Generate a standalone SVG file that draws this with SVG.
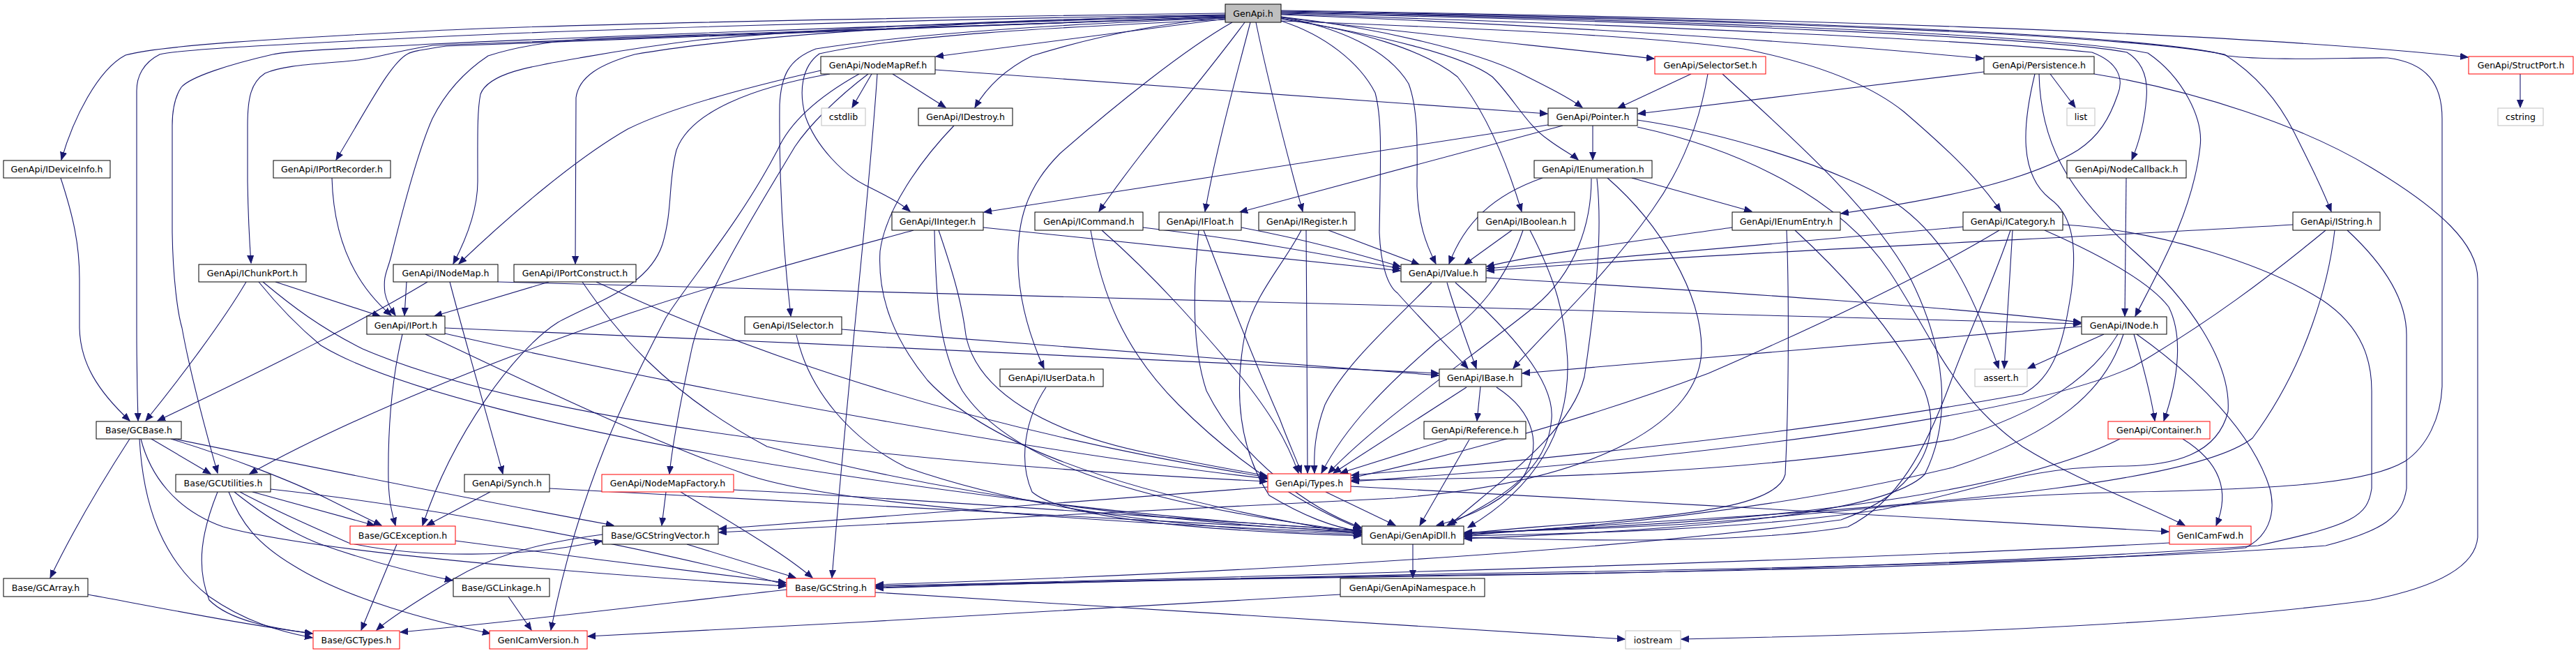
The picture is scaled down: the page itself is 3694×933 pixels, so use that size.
<svg xmlns="http://www.w3.org/2000/svg" width="3694" height="933" viewBox="0 0 3694 933">
<style>
.nd rect{fill:#fff;stroke:#000;stroke-width:1}
.nd.red rect{stroke:#ff0000}
.nd.ext rect{stroke:#bfbfbf}
.nd.root rect{fill:#bfbfbf}
.nd text{font-family:"DejaVu Sans","Liberation Sans",sans-serif;font-size:12.6px;text-anchor:middle;fill:#000}
#edges path{fill:none;stroke:#191970;stroke-width:1.1}
</style>
<defs>
<marker id="a" markerWidth="12" markerHeight="10" refX="11" refY="5" orient="auto" markerUnits="userSpaceOnUse"><path d="M0,0.5 L11,5 L0,9.5 z" fill="#191970" stroke="#191970" stroke-width="1"/></marker>
</defs>
<rect width="3694" height="933" fill="#fff"/>
<g id="edges" marker-end="url(#a)">
<path d="M1757,19 C1300,25 800,35 620,44 C400,55 230,65 180,79 C140,100 105,170 88,229"/>
<path d="M1757,21 C1300,28 800,44 620,53 C420,63 260,70 229,78 C205,90 196,110 196,130 L196,470 C196,530 197,570 198,603"/>
<path d="M1757,23 C1300,35 800,55 620,63 C500,70 420,72 391,78 C330,92 273,110 260,125 C250,140 247,160 247,180 L247,333 C248,400 255,450 261,470 C270,520 290,600 312,678"/>
<path d="M1757,24 C1300,38 850,55 620,65 C560,75 540,83 514,86 C460,92 410,92 380,105 C360,118 355,140 355,180 L355,260 C356,320 358,350 360,377"/>
<path d="M1757,24 C1300,38 850,55 640,66 C600,72 590,74 585,77 C560,90 530,150 482,229"/>
<path d="M1757,25 C1300,40 950,50 847,55 C780,60 730,70 700,80 C670,100 640,130 620,170 C600,215 575,310 561,367 C555,390 549,395 552,420 C555,435 562,445 567,452"/>
<path d="M1757,22 C1500,28 1250,35 1005,57 C920,67 860,78 831,83 C760,95 700,105 689,135 C684,160 685,200 685,260 C685,300 670,340 650,378"/>
<path d="M1757,22 C1500,26 1100,45 910,78 C860,92 830,110 826,140 L825,378"/>
<path d="M1757,26 C1500,35 1300,50 1170,70 C1130,85 1120,110 1118,150 C1117,250 1122,350 1134,453"/>
<path d="M1757,27 L1342,81"/>
<path d="M1757,25 C1650,35 1560,55 1480,80 C1440,100 1415,125 1398,154"/>
<path d="M1757,28 C1500,40 1300,50 1175,77 C1150,95 1145,130 1155,167 C1170,210 1210,250 1240,265 C1270,280 1290,290 1305,303"/>
<path d="M1785,32 C1720,120 1640,210 1576,303"/>
<path d="M1793,32 C1770,120 1745,210 1728,303"/>
<path d="M1801,32 C1815,100 1840,200 1868,303"/>
<path d="M1767,32 C1700,70 1600,150 1520,220 C1470,270 1458,320 1460,380 C1462,440 1480,490 1497,528"/>
<path d="M1837,24 C1920,40 1990,70 2020,120 C2035,160 2032,220 2032,267 C2033,320 2045,350 2059,378"/>
<path d="M1837,30 C1900,50 1950,90 1972,133 C1982,170 1980,220 1978,333 C1980,380 1990,410 2004,420 C2030,450 2080,500 2105,528"/>
<path d="M1837,26 C1950,45 2040,70 2090,110 C2130,160 2160,230 2182,303"/>
<path d="M1837,27 C1980,50 2100,80 2140,110 C2170,140 2190,180 2220,200 C2240,215 2255,222 2263,229"/>
<path d="M1837,24 C1980,40 2120,75 2180,105 C2220,125 2250,140 2269,154"/>
<path d="M1837,25 C2000,45 2200,65 2372,84"/>
<path d="M1837,20 C2300,35 2800,55 3000,75 C3040,90 3045,115 3037,135 C3025,170 3010,195 2980,215 C2900,265 2750,290 2640,306"/>
<path d="M1837,30 C2100,40 2350,50 2500,70 C2600,90 2680,120 2730,160 C2800,220 2840,260 2869,303"/>
<path d="M1837,21 C2200,35 2600,60 2844,84"/>
<path d="M1837,19 C2400,30 2950,55 3050,75 C3075,90 3080,115 3078,140 C3075,180 3065,210 3057,229"/>
<path d="M1837,18 C2400,28 2950,50 3080,76 C3130,110 3160,170 3155,210 C3145,300 3100,380 3062,453"/>
<path d="M1837,17 C2500,28 3050,50 3190,78 C3240,110 3270,150 3290,190 C3315,240 3330,270 3343,303"/>
<path d="M1837,15 C2500,25 3200,45 3539,82"/>
<path d="M1837,16 C2500,26 3100,50 3194,80 C3260,88 3380,82 3424,83 C3480,90 3502,120 3502,170 L3502,554 C3500,600 3480,640 3449,661 C3400,690 3300,700 3060,705 C2800,710 2600,740 2400,752 C2250,760 2150,762 2100,763"/>
<path d="M1250,106 L1222,154"/>
<path d="M1280,106 L1356,154"/>
<path d="M1341,100 C1600,117 1900,140 2219,163"/>
<path d="M1177,101 C1050,130 950,160 900,185 C830,225 740,300 658,378"/>
<path d="M1190,106 C1080,125 990,160 970,215 C958,260 965,300 950,350 C930,410 860,430 800,462 C740,500 650,620 606,753"/>
<path d="M1245,106 C1200,140 1160,180 1140,210 C1080,310 1010,420 992,500 C977,570 965,630 960,679"/>
<path d="M1232,106 C1180,135 1135,170 1115,215 C1060,320 990,400 955,455 C900,560 830,700 790,903"/>
<path d="M1258,106 C1245,300 1220,500 1193,828"/>
<path d="M1368,180 C1320,230 1270,300 1262,360 C1258,430 1285,490 1330,545 C1400,620 1550,700 1952,766"/>
<path d="M2284,180 L2284,229"/>
<path d="M2220,179 L1411,304"/>
<path d="M2241,180 L1778,304"/>
<path d="M2348,172 C2470,190 2620,235 2717,290 C2790,340 2830,420 2866,528"/>
<path d="M2348,182 C2500,215 2640,285 2710,390 C2770,480 2800,570 2900,640 C2980,690 3080,725 3133,753"/>
<path d="M2212,255 C2140,280 2100,320 2078,378"/>
<path d="M2340,255 L2512,303"/>
<path d="M2282,256 C2282,320 2260,390 2200,440 C2100,520 1980,600 1905,678"/>
<path d="M2290,256 C2298,330 2290,420 2272,540 C2252,620 2150,690 2078,753"/>
<path d="M2305,255 C2380,320 2440,420 2440,500 C2440,600 2300,690 2000,714 C1600,732 1250,752 1031,763"/>
<path d="M2484,326 C2350,345 2200,365 2132,382"/>
<path d="M2562,330 C2565,400 2566,560 2560,680 C2550,720 2450,735 2300,748 C2200,755 2140,760 2100,765"/>
<path d="M2574,330 C2650,400 2720,480 2760,560 C2790,640 2740,710 2640,745 C2300,790 1800,820 1256,838"/>
<path d="M2815,325 C2600,345 2300,370 2132,385"/>
<path d="M2932,330 C3000,360 3080,400 3110,440 C3130,480 3125,540 3103,603"/>
<path d="M2886,330 C2882,400 2878,460 2874,528"/>
<path d="M2867,330 C2750,400 2600,470 2450,535 C2250,610 2050,660 1938,685"/>
<path d="M2883,330 C2860,400 2830,460 2800,540 C2760,650 2720,720 2650,755 C2500,780 2250,775 2100,770"/>
<path d="M2958,322 C3100,330 3250,380 3330,430 C3390,470 3401,520 3401,560 L3401,700 C3395,740 3376,752 3238,782 C3000,800 2500,820 2100,825 C1700,830 1400,838 1256,842"/>
<path d="M3288,322 C3000,340 2500,360 2132,388"/>
<path d="M3366,330 C3420,380 3451,430 3451,480 L3451,700 C3445,740 3420,760 3335,782 C3100,800 2600,815 2100,822 C1700,828 1400,836 1256,840"/>
<path d="M3335,330 C3250,400 3170,460 3060,525 C2900,600 2400,660 1938,690"/>
<path d="M3348,330 C3340,400 3310,520 3230,628 C3150,690 2800,720 2500,740 C2300,752 2180,760 2100,768"/>
<path d="M2985,468 C2700,490 2400,515 2183,535"/>
<path d="M3017,479 L2908,528"/>
<path d="M3060,479 C3075,530 3085,570 3090,603"/>
<path d="M3037,479 C3000,540 2930,590 2800,630 C2500,680 2200,685 1938,688"/>
<path d="M3045,479 C3020,560 2950,620 2800,670 C2550,730 2300,755 2100,766"/>
<path d="M3064,479 C3150,540 3230,620 3255,700 C3265,740 3250,770 3220,785 C3000,805 2600,818 2100,824 C1700,830 1400,838 1256,843"/>
<path d="M3049,255 L3047,453"/>
<path d="M2425,106 L2320,155"/>
<path d="M2449,106 C2440,160 2420,230 2370,300 C2300,400 2220,470 2170,528"/>
<path d="M2470,106 C2550,180 2680,290 2740,400 C2790,500 2800,600 2760,680 C2700,740 2400,760 2100,772"/>
<path d="M2845,103 C2700,120 2500,145 2349,163"/>
<path d="M2940,106 L2976,154"/>
<path d="M3003,106 C3150,130 3300,180 3400,240 C3500,300 3553,350 3553,400 L3553,770 C3550,810 3500,840 3400,860 C3100,900 2700,910 2411,916"/>
<path d="M2918,106 C2900,180 2895,250 2940,285 C2975,310 2978,360 2970,420 C2960,480 2950,540 2900,565 C2600,620 2200,660 1938,681"/>
<path d="M2924,106 C2926,200 2960,270 3060,360 C3140,430 3200,520 3195,590 C3180,650 3120,668 3040,668 C2900,670 2850,700 2700,730 C2500,760 2250,765 2100,768"/>
<path d="M3614,106 L3614,154"/>
<path d="M2075,405 C2085,440 2100,480 2117,528"/>
<path d="M2131,398 C2500,420 2800,440 2984,462"/>
<path d="M2053,405 C2000,460 1930,520 1900,580 C1885,620 1884,650 1885,678"/>
<path d="M2087,405 C2150,460 2230,540 2225,600 C2220,680 2140,720 2075,753"/>
<path d="M2123,554 L2118,603"/>
<path d="M2103,555 L1912,678"/>
<path d="M2146,555 C2200,590 2215,640 2180,690 C2140,730 2090,745 2060,753"/>
<path d="M2075,630 L1922,678"/>
<path d="M2107,630 L2036,753"/>
<path d="M1901,705 L2001,753"/>
<path d="M1818,698 C1500,720 1200,745 1031,758"/>
<path d="M1937,697 C2300,715 2800,745 3110,762"/>
<path d="M1128,845 C950,865 750,890 574,906"/>
<path d="M1255,849 C1600,870 2000,895 2330,916"/>
<path d="M3111,778 C2700,800 2000,822 1256,840"/>
<path d="M3130,629 C3180,660 3200,700 3178,753"/>
<path d="M3040,629 C2900,700 2600,740 2300,755 C2200,760 2140,763 2100,765"/>
<path d="M2026,780 L2026,828"/>
<path d="M1922,852 C1600,870 1200,895 843,912"/>
<path d="M1500,555 C1470,600 1460,660 1480,705 C1520,740 1700,760 1952,768"/>
<path d="M1207,472 C1500,495 1800,520 2063,538"/>
<path d="M1142,480 C1160,560 1220,630 1300,670 C1500,740 1750,760 1952,766"/>
<path d="M1410,326 C1650,350 1850,370 2008,388"/>
<path d="M1310,330 C1200,360 1050,400 900,450 C700,520 500,600 358,679"/>
<path d="M1346,330 C1370,400 1380,440 1385,480 C1400,560 1500,620 1650,650 C1720,665 1780,675 1817,682"/>
<path d="M1340,330 C1342,420 1345,500 1380,560 C1440,650 1600,720 1952,762"/>
<path d="M1639,326 C1800,345 1900,365 2008,385"/>
<path d="M1580,330 C1660,400 1720,470 1780,540 C1820,590 1845,630 1862,678"/>
<path d="M1564,330 C1580,420 1610,500 1690,580 C1780,670 1880,730 1952,758"/>
<path d="M1780,326 C1880,345 1950,365 2008,382"/>
<path d="M1726,330 C1760,420 1800,520 1835,600 C1850,640 1860,660 1866,678"/>
<path d="M1719,330 C1710,420 1710,500 1730,560 C1780,660 1880,730 1952,756"/>
<path d="M1905,330 L2035,379"/>
<path d="M1873,330 C1874,450 1874,580 1875,678"/>
<path d="M1866,330 C1840,380 1800,420 1785,480 C1770,560 1775,640 1820,710 C1870,740 1910,755 1952,762"/>
<path d="M2168,330 L2100,379"/>
<path d="M2184,330 C2160,400 2120,450 2060,490 C1990,550 1930,610 1895,678"/>
<path d="M2194,330 C2230,400 2245,450 2248,520 C2250,620 2200,700 2105,756"/>
<path d="M703,705 L612,753"/>
<path d="M788,700 C1200,720 1600,745 1952,762"/>
<path d="M955,705 L949,753"/>
<path d="M976,705 C1050,750 1120,790 1165,828"/>
<path d="M1052,702 C1400,720 1700,745 1952,760"/>
<path d="M985,780 L1141,828"/>
<path d="M864,766 C760,780 700,800 650,830 C600,860 560,885 540,903"/>
<path d="M653,775 C800,795 1000,820 1127,835"/>
<path d="M569,780 L518,903"/>
<path d="M362,705 L537,753"/>
<path d="M388,701 C650,730 950,790 1127,838"/>
<path d="M344,705 C400,735 460,760 500,778 C600,800 750,800 863,775"/>
<path d="M336,705 C380,740 420,765 460,780 C530,805 590,820 649,832"/>
<path d="M328,705 C345,750 370,780 420,810 C500,860 620,890 703,908"/>
<path d="M312,705 C290,760 280,810 300,860 C330,890 390,900 448,908"/>
<path d="M186,629 C140,700 100,770 72,828"/>
<path d="M217,629 L302,679"/>
<path d="M245,629 C330,655 420,690 470,715 C500,730 530,745 547,753"/>
<path d="M200,629 C205,720 230,800 300,855 C350,890 400,905 448,914"/>
<path d="M202,629 C215,680 250,730 320,755 C450,790 800,820 1127,840"/>
<path d="M245,628 C450,670 700,720 880,753"/>
<path d="M126,852 C250,875 350,895 448,908"/>
<path d="M729,855 L762,903"/>
<path d="M395,404 L545,453"/>
<path d="M353,404 C320,460 260,540 209,603"/>
<path d="M377,404 C420,440 460,470 520,500 C800,620 1400,670 1817,690"/>
<path d="M371,404 C400,440 430,470 460,495 C550,550 800,620 1200,680 C1500,725 1750,750 1952,760"/>
<path d="M577,479 C560,550 556,620 557,690 C558,720 562,735 567,753"/>
<path d="M638,470 C1100,490 1700,515 2063,535"/>
<path d="M638,478 C1000,560 1500,650 1817,686"/>
<path d="M610,479 C700,520 900,620 1070,680 C1200,725 1600,750 1952,764"/>
<path d="M613,404 C520,460 400,520 226,603"/>
<path d="M583,404 L580,452"/>
<path d="M645,404 C670,500 700,600 721,679"/>
<path d="M714,404 C1500,425 2500,450 2984,464"/>
<path d="M787,404 L623,453"/>
<path d="M855,404 C1000,470 1300,600 1817,684"/>
<path d="M835,404 C880,470 950,560 1100,640 C1400,720 1700,750 1952,763"/>
<path d="M87,255 C105,310 114,350 114,400 L114,470 C115,520 140,560 186,603"/>
<path d="M476,255 C478,330 500,400 561,452"/>
</g>
<g id="n_genapi" class="nd root"><rect x="1757" y="6" width="80" height="26"/><text x="1797" y="23.5">GenApi.h</text></g>
<g id="n_nodemapref" class="nd"><rect x="1177" y="81" width="164" height="25"/><text x="1259" y="98">GenApi/NodeMapRef.h</text></g>
<g id="n_selectorset" class="nd red"><rect x="2373" y="81" width="159" height="25"/><text x="2452.5" y="98">GenApi/SelectorSet.h</text></g>
<g id="n_persistence" class="nd"><rect x="2845" y="81" width="158" height="25"/><text x="2924" y="98">GenApi/Persistence.h</text></g>
<g id="n_structport" class="nd red"><rect x="3540" y="81" width="150" height="25"/><text x="3615" y="98">GenApi/StructPort.h</text></g>
<g id="n_cstdlib" class="nd ext"><rect x="1178" y="155" width="63" height="25"/><text x="1209.5" y="172">cstdlib</text></g>
<g id="n_idestroy" class="nd"><rect x="1317" y="155" width="135" height="25"/><text x="1384.5" y="172">GenApi/IDestroy.h</text></g>
<g id="n_pointer" class="nd"><rect x="2220" y="155" width="128" height="25"/><text x="2284" y="172">GenApi/Pointer.h</text></g>
<g id="n_list" class="nd ext"><rect x="2964" y="155" width="40" height="25"/><text x="2984" y="172">list</text></g>
<g id="n_cstring" class="nd ext"><rect x="3582" y="155" width="65" height="25"/><text x="3614.5" y="172">cstring</text></g>
<g id="n_ideviceinfo" class="nd"><rect x="5" y="230" width="153" height="25"/><text x="81.5" y="247">GenApi/IDeviceInfo.h</text></g>
<g id="n_iportrecorder" class="nd"><rect x="392" y="230" width="168" height="25"/><text x="476" y="247">GenApi/IPortRecorder.h</text></g>
<g id="n_ienumeration" class="nd"><rect x="2200" y="230" width="169" height="25"/><text x="2284.5" y="247">GenApi/IEnumeration.h</text></g>
<g id="n_nodecallback" class="nd"><rect x="2964" y="230" width="171" height="25"/><text x="3049.5" y="247">GenApi/NodeCallback.h</text></g>
<g id="n_iinteger" class="nd"><rect x="1279" y="304" width="131" height="26"/><text x="1344.5" y="321.5">GenApi/IInteger.h</text></g>
<g id="n_icommand" class="nd"><rect x="1484" y="304" width="155" height="26"/><text x="1561.5" y="321.5">GenApi/ICommand.h</text></g>
<g id="n_ifloat" class="nd"><rect x="1662" y="304" width="118" height="26"/><text x="1721" y="321.5">GenApi/IFloat.h</text></g>
<g id="n_iregister" class="nd"><rect x="1805" y="304" width="138" height="26"/><text x="1874" y="321.5">GenApi/IRegister.h</text></g>
<g id="n_iboolean" class="nd"><rect x="2119" y="304" width="139" height="26"/><text x="2188.5" y="321.5">GenApi/IBoolean.h</text></g>
<g id="n_ienumentry" class="nd"><rect x="2484" y="304" width="155" height="26"/><text x="2561.5" y="321.5">GenApi/IEnumEntry.h</text></g>
<g id="n_icategory" class="nd"><rect x="2815" y="304" width="143" height="26"/><text x="2886.5" y="321.5">GenApi/ICategory.h</text></g>
<g id="n_istring" class="nd"><rect x="3288" y="304" width="125" height="26"/><text x="3350.5" y="321.5">GenApi/IString.h</text></g>
<g id="n_ichunkport" class="nd"><rect x="285" y="379" width="154" height="25"/><text x="362" y="396">GenApi/IChunkPort.h</text></g>
<g id="n_inodemap" class="nd"><rect x="564" y="379" width="150" height="25"/><text x="639" y="396">GenApi/INodeMap.h</text></g>
<g id="n_iportconstruct" class="nd"><rect x="737" y="379" width="175" height="25"/><text x="824.5" y="396">GenApi/IPortConstruct.h</text></g>
<g id="n_ivalue" class="nd"><rect x="2009" y="379" width="122" height="25"/><text x="2070" y="396">GenApi/IValue.h</text></g>
<g id="n_iport" class="nd"><rect x="526" y="453" width="112" height="26"/><text x="582" y="470.5">GenApi/IPort.h</text></g>
<g id="n_iselector" class="nd"><rect x="1068" y="454" width="139" height="25"/><text x="1137.5" y="471">GenApi/ISelector.h</text></g>
<g id="n_inode" class="nd"><rect x="2985" y="454" width="122" height="25"/><text x="3046" y="471">GenApi/INode.h</text></g>
<g id="n_iuserdata" class="nd"><rect x="1434" y="529" width="148" height="25"/><text x="1508" y="546">GenApi/IUserData.h</text></g>
<g id="n_ibase" class="nd"><rect x="2064" y="529" width="118" height="25"/><text x="2123" y="546">GenApi/IBase.h</text></g>
<g id="n_assert" class="nd ext"><rect x="2832" y="529" width="75" height="25"/><text x="2869.5" y="546">assert.h</text></g>
<g id="n_gcbase" class="nd"><rect x="138" y="604" width="122" height="25"/><text x="199" y="621">Base/GCBase.h</text></g>
<g id="n_reference" class="nd"><rect x="2042" y="604" width="146" height="25"/><text x="2115" y="621">GenApi/Reference.h</text></g>
<g id="n_container" class="nd red"><rect x="3023" y="604" width="146" height="25"/><text x="3096" y="621">GenApi/Container.h</text></g>
<g id="n_gcutilities" class="nd"><rect x="252" y="680" width="136" height="25"/><text x="320" y="697">Base/GCUtilities.h</text></g>
<g id="n_synch" class="nd"><rect x="666" y="680" width="122" height="25"/><text x="727" y="697">GenApi/Synch.h</text></g>
<g id="n_nodemapfactory" class="nd red"><rect x="863" y="680" width="189" height="25"/><text x="957.5" y="697">GenApi/NodeMapFactory.h</text></g>
<g id="n_types" class="nd red"><rect x="1818" y="679" width="119" height="26"/><text x="1877.5" y="696.5">GenApi/Types.h</text></g>
<g id="n_gcexception" class="nd red"><rect x="502" y="754" width="151" height="26"/><text x="577.5" y="771.5">Base/GCException.h</text></g>
<g id="n_gcstringvector" class="nd"><rect x="864" y="754" width="166" height="26"/><text x="947" y="771.5">Base/GCStringVector.h</text></g>
<g id="n_genapidll" class="nd"><rect x="1953" y="754" width="146" height="26"/><text x="2026" y="771.5">GenApi/GenApiDll.h</text></g>
<g id="n_genicamfwd" class="nd red"><rect x="3111" y="754" width="117" height="26"/><text x="3169.5" y="771.5">GenICamFwd.h</text></g>
<g id="n_gcarray" class="nd"><rect x="5" y="829" width="121" height="26"/><text x="65.5" y="846.5">Base/GCArray.h</text></g>
<g id="n_gclinkage" class="nd"><rect x="650" y="829" width="138" height="26"/><text x="719" y="846.5">Base/GCLinkage.h</text></g>
<g id="n_gcstring" class="nd red"><rect x="1128" y="829" width="127" height="26"/><text x="1191.5" y="846.5">Base/GCString.h</text></g>
<g id="n_genapinamespace" class="nd"><rect x="1922" y="829" width="207" height="26"/><text x="2025.5" y="846.5">GenApi/GenApiNamespace.h</text></g>
<g id="n_gctypes" class="nd red"><rect x="449" y="904" width="124" height="26"/><text x="511" y="921.5">Base/GCTypes.h</text></g>
<g id="n_genicamversion" class="nd red"><rect x="702" y="904" width="140" height="26"/><text x="772" y="921.5">GenICamVersion.h</text></g>
<g id="n_iostream" class="nd ext"><rect x="2331" y="904" width="79" height="26"/><text x="2370.5" y="921.5">iostream</text></g>
</svg>
